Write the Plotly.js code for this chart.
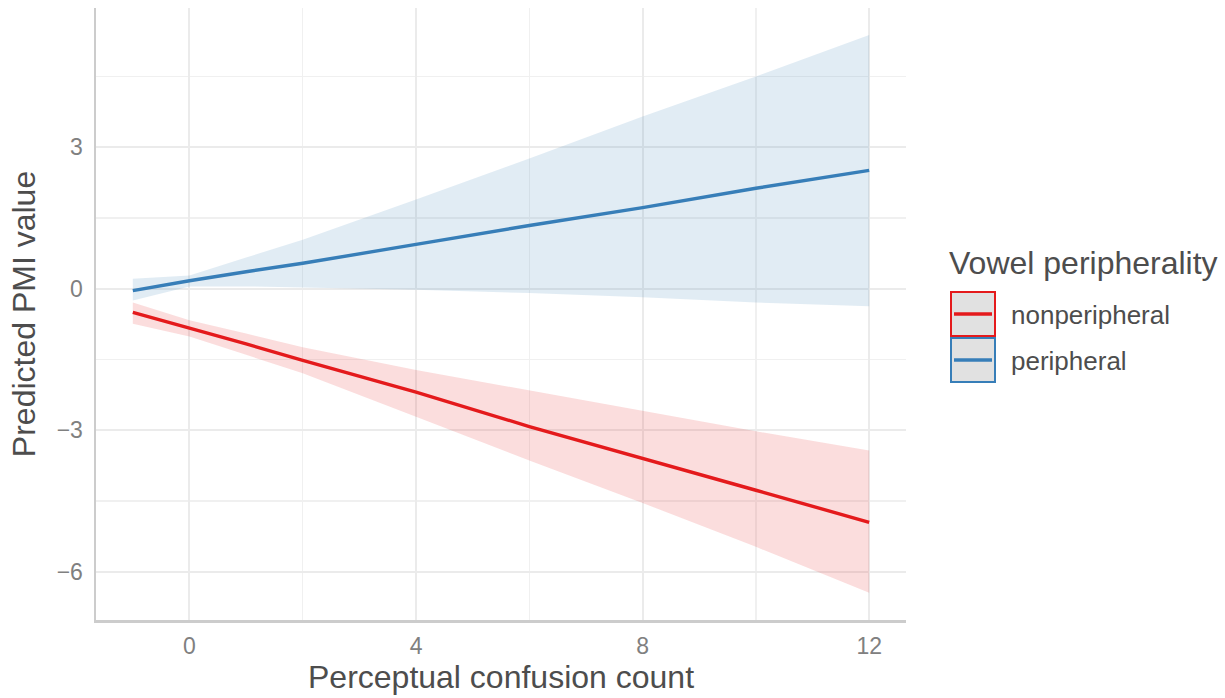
<!DOCTYPE html>
<html>
<head>
<meta charset="utf-8">
<script src="https://cdn.plot.ly/plotly-3.0.1.min.js"></script>
<style>html,body{margin:0;padding:0;background:#fff;}#chart{width:1225px;height:698px;}</style>
</head>
<body>
<div id="chart"></div>
<script>
// ---- data ----
const groups = ["nonperipheral", "peripheral"];
const xVals = [-1, 0, 1, 2, 4, 6, 8, 10, 12];

const nonperiphFit   = [-0.50, -0.83, -1.17, -1.52, -2.19, -2.92, -3.59, -4.27, -4.95];
const nonperiphUpper = [-0.29, -0.67, -0.95, -1.24, -1.72, -2.15, -2.58, -3.02, -3.43];
const nonperiphLower = [-0.74, -1.01, -1.40, -1.79, -2.71, -3.64, -4.54, -5.47, -6.44];

const periphFit   = [-0.04, 0.17, 0.36, 0.54, 0.94, 1.34, 1.72, 2.13, 2.51];
const periphUpper = [0.21, 0.28, 0.66, 1.04, 1.89, 2.76, 3.65, 4.50, 5.38];
const periphLower = [-0.25, 0.05, 0.05, 0.03, -0.02, -0.09, -0.18, -0.29, -0.37];

const xTicks = [0, 4, 8, 12];
const yTicks = [-6, -3, 0, 3];

const xTitle = "Perceptual confusion count";
const yTitle = "Predicted PMI value";
const legendTitle = "Vowel peripherality";

// ---- styling ----
const colors = ["#E41A1C", "#377EB8"];
const fills = ["rgba(228,26,28,0.15)", "rgba(55,126,184,0.15)"];
const fontFam = "Liberation Sans, Arial, sans-serif";

const series = [
  {fit: nonperiphFit, up: nonperiphUpper, lo: nonperiphLower},
  {fit: periphFit, up: periphUpper, lo: periphLower}
];

const traces = [];
series.forEach((s, i) => {
  traces.push({x: xVals, y: s.lo, type: "scatter", mode: "lines", line: {width: 0, color: fills[i]}, showlegend: false, hoverinfo: "skip"});
  traces.push({x: xVals, y: s.up, type: "scatter", mode: "lines", line: {width: 0, color: fills[i]}, fill: "tonexty", fillcolor: fills[i], showlegend: false, hoverinfo: "skip"});
});
series.forEach((s, i) => {
  traces.push({x: xVals, y: s.fit, type: "scatter", mode: "lines", name: groups[i], line: {width: 3.4, color: colors[i]}, showlegend: false});
});

// ---- manual legend (ggplot style keys) ----
const px2x = px => (px - 96) / 810;
const px2y = py => (620 - py) / 612;
const shapes = [];
const annotations = [{
  xref: "paper", yref: "paper", x: px2x(947), y: px2y(263), xanchor: "left", yanchor: "middle",
  text: legendTitle, showarrow: false, font: {family: fontFam, size: 32, color: "#4d4d4d"}
}];
const keyTops = [292, 338];
groups.forEach((g, i) => {
  const top = keyTops[i], bot = top + 44, mid = (top + bot) / 2;
  shapes.push({type: "rect", xref: "paper", yref: "paper", x0: px2x(951), x1: px2x(995), y0: px2y(top), y1: px2y(bot),
    fillcolor: "#e1e1e1", line: {color: colors[i], width: 2}});
  shapes.push({type: "line", xref: "paper", yref: "paper", x0: px2x(954), x1: px2x(992), y0: px2y(mid), y1: px2y(mid),
    line: {color: colors[i], width: 3.4}});
  annotations.push({xref: "paper", yref: "paper", x: px2x(1009), y: px2y(mid + 1), xanchor: "left", yanchor: "middle",
    text: g, showarrow: false, font: {family: fontFam, size: 26, color: "#4d4d4d"}});
});

const layout = {
  width: 1225, height: 698,
  margin: {l: 96, r: 319, t: 8, b: 78},
  paper_bgcolor: "#fff", plot_bgcolor: "#fff",
  font: {family: fontFam},
  showlegend: false,
  xaxis: {
    range: [-1.65, 12.65], tickvals: xTicks, ticktext: xTicks.map(String),
    showgrid: true, gridcolor: "#ebebeb", gridwidth: 2,
    minor: {dtick: 2, tick0: 0, showgrid: true, gridcolor: "#f0f0f0", gridwidth: 1.2},
    zeroline: false, showline: true, linecolor: "#cccccc", linewidth: 2.5,
    ticks: "", tickfont: {family: fontFam, size: 23, color: "#808080"},
    ticklabelstandoff: 4,
    title: {text: xTitle, font: {family: fontFam, size: 32, color: "#4d4d4d"}, standoff: 8}
  },
  yaxis: {
    range: [-7.02, 5.95], tickvals: yTicks, ticktext: yTicks.map(v => v < 0 ? "\u2212" + Math.abs(v) : String(v)),
    showgrid: true, gridcolor: "#ebebeb", gridwidth: 2,
    minor: {dtick: 1.5, tick0: 0, showgrid: true, gridcolor: "#f0f0f0", gridwidth: 1.2},
    zeroline: false, showline: true, linecolor: "#cccccc", linewidth: 2.5,
    ticks: "", tickfont: {family: fontFam, size: 23, color: "#808080"},
    ticklabelstandoff: 6,
    title: {text: yTitle, font: {family: fontFam, size: 32, color: "#4d4d4d"}, standoff: 12}
  },
  shapes: shapes,
  annotations: annotations
};

Plotly.newPlot("chart", traces, layout, {displayModeBar: false, staticPlot: true});
</script>
</body>
</html>
